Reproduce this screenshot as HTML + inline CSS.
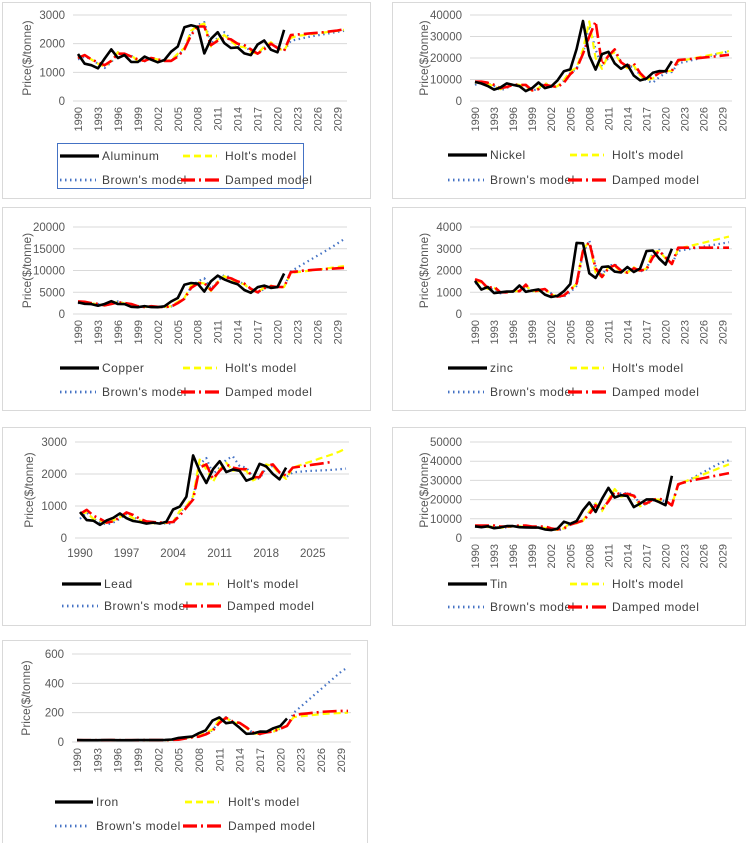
<!DOCTYPE html>
<html><head><meta charset="utf-8"><style>
body{margin:0;background:#fff;width:749px;height:843px;overflow:hidden;font-family:"Liberation Sans",sans-serif}
svg text{font-family:"Liberation Sans",sans-serif}
</style></head><body>
<svg id="fig" width="749" height="843" viewBox="0 0 749 843" xmlns="http://www.w3.org/2000/svg"></svg>
<script>
// ---- data (1990..2030 for models, 1990..2021 for actual) ----
const alActual=[1640,1300,1250,1140,1480,1800,1500,1600,1360,1360,1550,1440,1350,1430,1720,1900,2570,2640,2580,1660,2170,2400,2020,1850,1870,1660,1600,1970,2110,1790,1700,2480];
const alHolt=[1500,1600,1450,1300,1200,1400,1700,1600,1600,1400,1400,1500,1450,1400,1420,1650,1850,2450,2620,2700,1900,2150,2300,2100,1900,1880,1720,1640,1900,2050,1850,1750,2200,2270,2300,2330,2360,2390,2420,2450,2480];
const alBrown=[1450,1550,1450,1300,1150,1350,1700,1600,1580,1400,1380,1500,1450,1400,1400,1600,1800,2400,2650,2750,2000,2200,2400,2150,1950,1900,1750,1650,1850,2050,1850,1750,2100,2150,2200,2250,2290,2330,2370,2410,2450];
const alDamped=[1500,1600,1450,1350,1250,1400,1650,1650,1550,1450,1400,1500,1450,1400,1400,1550,1800,2300,2600,2600,1950,2100,2200,2150,2000,1950,1800,1650,1800,2000,1850,1750,2300,2320,2340,2360,2380,2400,2430,2460,2500];

const niActual=[8900,8150,7000,5300,6300,8200,7500,6900,4600,6000,8600,6000,6800,9600,13800,14700,24200,37200,21100,14600,21800,22900,17500,15000,16900,11800,9600,10400,13100,13900,13800,18500];
const niHolt=[8500,8900,8000,6800,5500,6400,8000,7500,6800,4800,6000,8500,6200,6900,9800,13800,15500,24000,37000,20000,15000,21500,22500,17500,15200,16500,11800,9800,10500,13000,13800,14000,18500,19000,19600,20200,20800,21400,22000,22600,23200];
const niBrown=[7500,8800,8200,7000,5000,6000,8000,7500,7000,5000,5500,8500,6500,6500,9500,13000,15000,22000,35000,24000,16000,20000,23000,18000,16000,16000,12000,9500,8500,11000,13000,13500,17500,18200,18900,19600,20300,21000,21700,22400,23100];
const niDamped=[9000,9000,8500,7500,6000,6500,7500,7500,7500,5000,5500,7500,7000,6500,8500,12500,15000,22000,30000,37000,17000,21000,24000,18000,16000,17500,13000,10000,11000,13000,14000,14000,19000,19300,19600,19900,20200,20500,20800,21100,21500];

const cuActual=[2660,2340,2280,1910,2310,2940,2290,2280,1650,1570,1810,1580,1560,1780,2870,3680,6730,7120,6960,5150,7540,8820,7960,7330,6860,5510,4870,6170,6530,6010,6180,9320];
const cuHolt=[2700,2600,2400,2250,1950,2300,2800,2400,2250,1700,1600,1800,1600,1600,1800,2800,3700,6500,7300,7000,5300,7400,8700,8000,7300,6800,5600,5000,6100,6500,6100,6200,9400,9600,9800,10000,10200,10400,10600,10800,11000];
const cuBrown=[2500,2700,2400,2300,1900,2300,2900,2400,2300,1700,1550,1800,1600,1550,1700,2700,3600,6200,7500,8200,5800,7500,9000,8300,7500,6900,5600,4800,5800,6500,6200,6200,9800,10700,11600,12500,13400,14300,15200,16200,17200];
const cuDamped=[2900,2800,2500,2300,2000,2300,2700,2500,2300,1800,1600,1800,1650,1600,1700,2500,3500,6000,7000,7100,5500,7200,8500,8200,7500,7000,5800,5000,5900,6400,6200,6200,9600,9800,10000,10100,10200,10300,10400,10500,10600];

const znActual=[1520,1120,1240,960,1000,1030,1030,1310,1020,1080,1130,890,780,830,1050,1380,3270,3250,1870,1660,2160,2190,1950,1910,2160,1930,2090,2890,2920,2550,2270,3000];
const znHolt=[1500,1450,1150,1200,1000,1000,1050,1050,1300,1050,1050,1150,900,800,850,1100,1400,3000,3300,1900,1700,2150,2200,1950,1900,2150,1950,2100,2850,2900,2550,2300,3000,3070,3140,3210,3280,3350,3420,3490,3560];
const znBrown=[1400,1500,1150,1150,950,1000,1050,1050,1250,1050,1050,1150,950,800,800,1000,1300,2800,3400,2200,1800,2200,2300,2000,1950,2100,1950,2050,2800,2950,2600,2300,2900,2950,3000,3050,3100,3150,3200,3250,3300];
const znDamped=[1600,1500,1200,1250,1000,1000,1050,1050,1350,1000,1100,1150,900,800,850,1100,1400,2900,3300,2100,1700,2100,2250,2000,1900,2100,2000,2050,2600,2900,2600,2300,3050,3050,3050,3050,3050,3050,3050,3050,3050];

const pbActual=[810,560,540,410,550,630,770,620,530,500,450,480,450,510,890,980,1290,2580,2090,1720,2150,2400,2060,2140,2100,1790,1870,2320,2240,2000,1830,2200];
const pbHolt=[780,790,600,550,450,550,650,750,620,550,500,460,480,470,500,850,1000,1300,2450,2150,1750,2150,2350,2100,2150,2100,1800,1900,2300,2250,2000,1850,2200,2270,2340,2410,2480,2550,2620,2700,2800];
const pbBrown=[600,800,600,500,420,480,600,750,650,550,500,450,470,450,450,800,1000,1250,2300,2500,2000,2200,2450,2550,2250,2200,1900,1850,2200,2250,2050,1900,2050,2070,2090,2100,2110,2120,2130,2150,2170];
const pbDamped=[750,880,700,600,480,520,650,800,720,600,520,500,480,480,500,700,950,1200,2200,2300,1850,2100,2300,2200,2150,2150,1900,1900,2250,2300,2050,1950,2200,2230,2260,2290,2320,2350,2380,null,2480];

const snActual=[6100,5600,6100,5100,5500,6200,6200,5600,5500,5400,5400,4500,4100,4900,8500,7400,8800,14500,18500,13600,20400,26100,21100,22300,21900,16100,17900,20100,20100,18700,17100,32400];
const snHolt=[6000,6200,5700,6000,5300,5600,6100,6100,5600,5500,5400,5300,4600,4200,5000,8000,7600,9000,14000,18000,14000,20000,25500,21500,22300,21800,16500,17800,20000,20000,18800,17300,28000,29300,30600,31900,33200,34500,35800,37100,38400];
const snBrown=[5800,6000,5900,5800,5300,5500,6000,6100,5700,5500,5400,5200,4500,4100,4600,7500,7800,9000,13500,18000,15000,19500,25000,23000,23500,22500,17500,17500,19500,20000,19000,17500,27500,29000,30800,32600,34400,36200,38000,39500,40500];
const snDamped=[6500,6500,6500,6500,6000,6000,6200,6500,6500,6000,6000,6000,5000,4500,5000,7000,8000,9000,12500,17000,15000,19000,24000,22500,23000,22000,18000,18000,20000,20500,19500,17000,28000,29000,29800,30500,31200,31900,32500,33100,33800];

const feActual=[13,12,12,12,13,13,12,12,12,13,13,13,13,14,17,28,33,37,60,80,146,168,128,135,97,56,58,71,70,94,109,160];
const feHolt=[12,12,12,12,12,13,13,12,12,12,13,13,13,13,14,18,28,34,40,62,85,150,165,130,130,95,58,55,72,72,95,112,170,175,180,185,190,193,196,198,200];
const feBrown=[12,12,12,12,12,13,13,12,12,12,13,13,13,13,14,16,26,33,38,58,80,140,170,135,130,100,60,52,68,70,92,110,200,240,280,320,360,400,440,480,510];
const feDamped=[12,12,12,12,12,13,13,12,12,12,13,13,13,13,14,16,24,32,36,52,75,130,165,140,130,100,65,55,66,72,90,110,180,190,195,200,205,208,210,212,212];

const startYear=1990;
const yTicksAl=[0,1000,2000,3000];
const yTicksNi=[0,10000,20000,30000,40000];
const yTicksCu=[0,5000,10000,15000,20000];
const yTicksZn=[0,1000,2000,3000,4000];
const yTicksPb=[0,1000,2000,3000];
const yTicksSn=[0,10000,20000,30000,40000,50000];
const yTicksFe=[0,200,400,600];
const xTicksVertical=[1990,1993,1996,1999,2002,2005,2008,2011,2014,2017,2020,2023,2026,2029];
const xTicksHorizontal=[1990,1997,2004,2011,2018,2025];

const panels=[
 {key:'aluminum',name:'Aluminum',actual:alActual,holt:alHolt,brown:alBrown,damped:alDamped,ticks:yTicksAl,xt:xTicksVertical,vert:true,
  box:[2,2,368,196],x0:78,x1:344,yT:15,yB:101,legY:[156,180],legL:[60,102,183,225],legBox:true},
 {key:'nickel',name:'Nickel',actual:niActual,holt:niHolt,brown:niBrown,damped:niDamped,ticks:yTicksNi,xt:xTicksVertical,vert:true,
  box:[392,2,353,196],x0:475,x1:729,yT:15,yB:101,legY:[155,180],legL:[448,490,570,612]},
 {key:'copper',name:'Copper',actual:cuActual,holt:cuHolt,brown:cuBrown,damped:cuDamped,ticks:yTicksCu,xt:xTicksVertical,vert:true,
  box:[2,207,368,203],x0:78,x1:344,yT:227,yB:314,legY:[368,392],legL:[60,102,183,225]},
 {key:'zinc',name:'zinc',actual:znActual,holt:znHolt,brown:znBrown,damped:znDamped,ticks:yTicksZn,xt:xTicksVertical,vert:true,
  box:[392,207,353,203],x0:475,x1:729,yT:227,yB:314,legY:[368,392],legL:[448,490,570,612]},
 {key:'lead',name:'Lead',actual:pbActual,holt:pbHolt,brown:pbBrown,damped:pbDamped,ticks:yTicksPb,xt:xTicksHorizontal,vert:false,
  box:[2,427,368,198],x0:80,x1:346,yT:442,yB:538,legY:[584,606],legL:[62,104,185,227]},
 {key:'tin',name:'Tin',actual:snActual,holt:snHolt,brown:snBrown,damped:snDamped,ticks:yTicksSn,xt:xTicksVertical,vert:true,
  box:[392,427,353,198],x0:475,x1:729,yT:442,yB:538,legY:[584,607],legL:[448,490,570,612]},
 {key:'iron',name:'Iron',actual:feActual,holt:feHolt,brown:feBrown,damped:feDamped,ticks:yTicksFe,xt:xTicksVertical,vert:true,
  box:[2,640,365,203],x0:77,x1:348,yT:654,yB:742,legY:[802,826],legL:[55,96,185,228]}
];

const NS='http://www.w3.org/2000/svg';
const fig=document.getElementById('fig');
function mk(tag,attrs,parent){const e=document.createElementNS(NS,tag);for(const k in attrs)e.setAttribute(k,attrs[k]);parent.appendChild(e);return e;}
const styles={
 actual:{stroke:'#000',w:2.6,dash:''},
 holt:{stroke:'#ffff00',w:2.2,dash:'7,4'},
 brown:{stroke:'#4472c4',w:2.2,dash:'1.5,3.5'},
 damped:{stroke:'#ff0000',w:2.6,dash:'14,4,2,4'}
};

panels.forEach(p=>{
 const g=mk('g',{},fig);
 
 
 const b=mk('rect',{x:p.box[0]+.5,y:p.box[1]+.5,width:p.box[2],height:p.box[3],fill:'#fff',stroke:'#d9d9d9','stroke-width':1},g);
 
 
 const maxY=p.ticks[p.ticks.length-1];
 const n=41;
 const xs=i=>p.x0+(p.x1-p.x0)*i/(n-1);
 const ys=v=>p.yB-(p.yB-p.yT)*v/maxY;
 const gl=p.x0-5, gr=p.x1+3;
 p.ticks.forEach(t=>{
  const l=mk('line',{x1:gl,x2:gr,y1:ys(t),y2:ys(t),stroke:'#d9d9d9','stroke-width':1},g);
  
  
  const tx=mk('text',{x:gl-8,y:ys(t)+4,'text-anchor':'end','font-size':11.5,fill:'#595959'},g);
  tx.textContent=String(t);
  
  
 });
 const yt=mk('text',{transform:`translate(${gl-42},${(p.yT+p.yB)/2}) rotate(-90)`,'text-anchor':'middle','font-size':12,fill:'#595959'},g);
 yt.textContent='Price($/tonne)';
 
 
 p.xt.forEach(yr=>{
  const x=xs(yr-startYear);
  let t;
  if(p.vert){t=mk('text',{transform:`translate(${x+4},${p.yB+6}) rotate(-90)`,'text-anchor':'end','font-size':11,fill:'#595959'},g);}
  else{t=mk('text',{x:x,y:p.yB+19,'text-anchor':'middle','font-size':11.5,fill:'#595959'},g);}
  t.textContent=String(yr);
  
  
 });
 ['brown','holt','damped','actual'].forEach(s=>{
  const arr=p[s];let d='';let pen=false;
  arr.forEach((v,i)=>{if(v==null){pen=false;return;}d+=(pen?'L':'M')+xs(i).toFixed(1)+','+ys(v).toFixed(1);pen=true;});
  const st=styles[s];
  const path=mk('path',{d:d,fill:'none',stroke:st.stroke,'stroke-width':st.w,'stroke-dasharray':st.dash,'stroke-linejoin':'round'},g);
  
  
 });
 // legend
 const L=p.legL, Y=p.legY;
 if(p.legBox){const lb=mk('rect',{x:57.5,y:143.5,width:246,height:45,fill:'none',stroke:'#4472c4','stroke-width':1},g);
  
  }
 const items=[
  {s:'actual',x:L[0],tx:L[1],y:Y[0],lab:p.name,len:L[1]-L[0]-3},
  {s:'holt',x:L[2],tx:L[3],y:Y[0],lab:"Holt's model",len:34},
  {s:'brown',x:L[0],tx:L[1],y:Y[1],lab:"Brown's model",len:L[1]-L[0]-6},
  {s:'damped',x:L[2]-2,tx:L[3],y:Y[1],lab:"Damped model",len:40}
 ];
 items.forEach(it=>{
  const st=styles[it.s];
  const ln=mk('line',{x1:it.x,x2:it.x+it.len,y1:it.y,y2:it.y,stroke:st.stroke,'stroke-width':st.w+0.6,'stroke-dasharray':st.dash},g);
  
  
  const t=mk('text',{x:it.tx,y:it.y+4,'font-size':12,fill:'#404040','letter-spacing':0.5},g);
  t.textContent=it.lab;
  
  
 });
});
</script>
</body></html>
